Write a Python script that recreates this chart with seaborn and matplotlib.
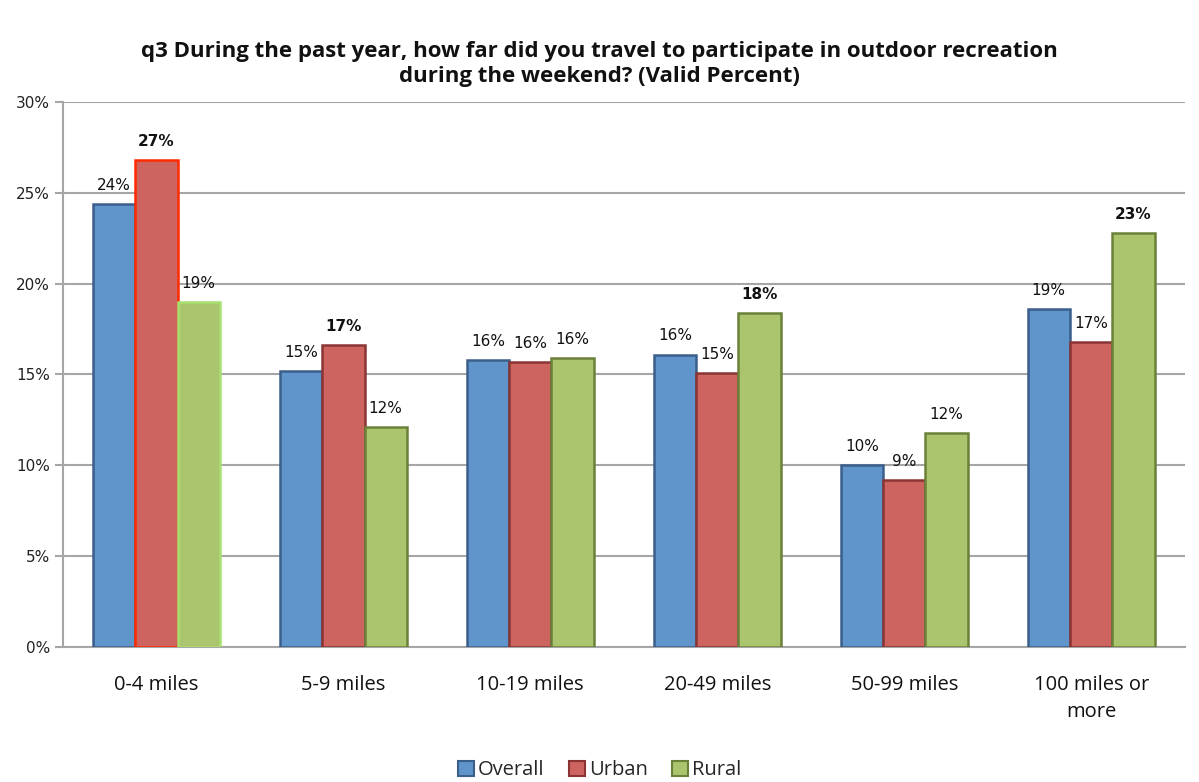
import pandas as pd
import numpy as np
import seaborn as sns
import matplotlib.pyplot as plt
from matplotlib.patches import Patch
from matplotlib.ticker import FixedLocator

# Distance categories and valid percents per group
categories = ['0-4 miles', '5-9 miles', '10-19 miles', '20-49 miles', '50-99 miles', '100 miles or\nmore']
overall = [24.4, 15.2, 15.8, 16.1, 10.0, 18.6]
urban = [26.8, 16.6, 15.7, 15.1, 9.2, 16.8]
rural = [19.0, 12.1, 15.9, 18.4, 11.8, 22.8]
groups = ['Overall', 'Urban', 'Rural']

# labels shown in bold (category index, group)
bold_labels = [(0, 'Urban'), (1, 'Urban'), (3, 'Rural'), (5, 'Rural')]

df = pd.DataFrame({
    'category': categories * 3,
    'group': ['Overall'] * 6 + ['Urban'] * 6 + ['Rural'] * 6,
    'value': overall + urban + rural,
})

fills = {'Overall': '#5F95CA', 'Urban': '#CD6460', 'Rural': '#ABC56E'}
edges = {'Overall': '#3B5E8A', 'Urban': '#8A3533', 'Rural': '#6B8139'}

sns.set_style('white')
plt.rcParams['font.family'] = ['Open Sans', 'DejaVu Sans']

fig = plt.figure(figsize=(11.99, 7.82), dpi=100)
ax = fig.add_axes([0.0525, 0.1726, 0.9355, 0.697])

sns.barplot(data=df, x='category', y='value', hue='group', order=categories,
            hue_order=groups, palette=fills, width=0.68, saturation=1,
            legend=False, ax=ax, zorder=3)

for grp, cont in zip(groups, ax.containers):
    for i, bar in enumerate(cont):
        bar.set_edgecolor(edges[grp])
        bar.set_linewidth(1.8)
        h = bar.get_height()
        bold = (i, grp) in bold_labels
        ax.annotate(f'{int(h + 0.5)}%', (bar.get_x() + bar.get_width() / 2, h),
                    xytext=(0, 8), textcoords='offset points', ha='center', va='bottom',
                    fontsize=11, family='DejaVu Sans',
                    fontweight='bold' if bold else 'normal', color='#111111')

# highlighted first group outlines
ax.containers[1][0].set_edgecolor('#FF2A00')
ax.containers[2][0].set_edgecolor('#A8E070')

ax.set_ylim(0, 30)
ax.set_xlim(-0.5, len(categories) - 0.5)
ax.set_yticks(range(0, 31, 5))
ax.set_yticklabels([f'{v}%' for v in range(0, 31, 5)], fontsize=11, family='DejaVu Sans', color='#222222')
ax.yaxis.grid(True, color='#A6A6A6', linewidth=1.5, zorder=0)
ax.set_axisbelow(True)

ax.set_xticks(range(len(categories)))
ax.set_xticklabels(categories, fontsize=14.5, color='#111111', linespacing=1.45)
ax.tick_params(axis='x', which='major', length=0, pad=20)
ax.xaxis.set_minor_locator(FixedLocator(np.arange(-0.5, len(categories), 1.0)))
ax.tick_params(axis='x', which='minor', length=6, width=1.5, color='#A6A6A6', direction='out')
ax.tick_params(axis='y', length=6, width=1.5, color='#A6A6A6', direction='out', left=True)
ax.set_xlabel('')
ax.set_ylabel('')

for s in ['top', 'right']:
    ax.spines[s].set_visible(False)
for s in ['left', 'bottom']:
    ax.spines[s].set_color('#A6A6A6')
    ax.spines[s].set_linewidth(1.5)

handles = [Patch(facecolor=fills[g], edgecolor=edges[g], linewidth=1.5, label=g) for g in groups]
fig.legend(handles=handles, loc='center', bbox_to_anchor=(0.5, 0.015), ncol=3, frameon=False,
           fontsize=14.5, handlelength=0.8, handleheight=0.8, handletextpad=0.2, columnspacing=1.2,
           borderaxespad=0)

fig.suptitle('q3 During the past year, how far did you travel to participate in outdoor recreation\n'
             'during the weekend? (Valid Percent)', fontsize=16, fontweight='bold', y=0.948,
             va='top', linespacing=1.25, color='#111111')

fig.savefig('out.png', dpi=100)
